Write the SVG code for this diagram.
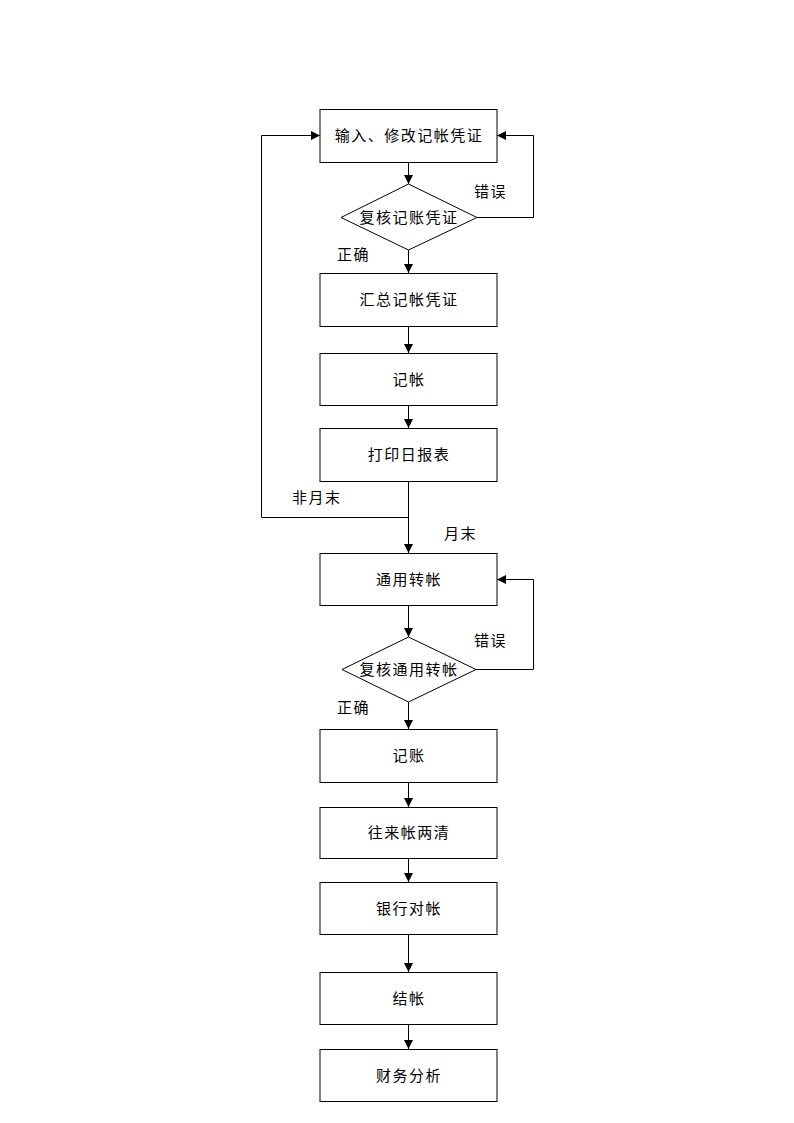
<svg xmlns="http://www.w3.org/2000/svg" width="794" height="1123" viewBox="0 0 794 1123">
<style>
.box{fill:#fff;stroke:#000;stroke-width:1}
.t{font-family:"Liberation Sans","Noto Sans CJK SC",sans-serif;font-size:15px;letter-spacing:1.5px;fill:#000;text-anchor:middle;dominant-baseline:central}
.l{font-family:"Liberation Sans","Noto Sans CJK SC",sans-serif;font-size:15px;letter-spacing:1.5px;fill:#000;dominant-baseline:central}
.c{fill:none;stroke:#000;stroke-width:1}
</style>
<defs>
<marker id="a" markerUnits="userSpaceOnUse" markerWidth="10" markerHeight="10" refX="9" refY="4.5" orient="auto">
<path d="M0,0 L9,4.5 L0,9 Z" fill="#000"/>
</marker>
</defs>
<rect width="794" height="1123" fill="#fff"/>
<g id="connectors">
<line class="c" x1="408.5" y1="162" x2="408.5" y2="184" marker-end="url(#a)"/>
<line class="c" x1="408.5" y1="250" x2="408.5" y2="273" marker-end="url(#a)"/>
<line class="c" x1="408.5" y1="326" x2="408.5" y2="353" marker-end="url(#a)"/>
<line class="c" x1="408.5" y1="405" x2="408.5" y2="428" marker-end="url(#a)"/>
<line class="c" x1="408.5" y1="481" x2="408.5" y2="553" marker-end="url(#a)"/>
<polyline class="c" points="408.5,517.5 261.5,517.5 261.5,135.5 320,135.5" marker-end="url(#a)"/>
<polyline class="c" points="477,217.5 533.5,217.5 533.5,135.5 497,135.5" marker-end="url(#a)"/>
<line class="c" x1="408.5" y1="605" x2="408.5" y2="637" marker-end="url(#a)"/>
<polyline class="c" points="476,669.5 533.5,669.5 533.5,579.5 497,579.5" marker-end="url(#a)"/>
<line class="c" x1="408.5" y1="702" x2="408.5" y2="729" marker-end="url(#a)"/>
<line class="c" x1="408.5" y1="782" x2="408.5" y2="807" marker-end="url(#a)"/>
<line class="c" x1="408.5" y1="858" x2="408.5" y2="882" marker-end="url(#a)"/>
<line class="c" x1="408.5" y1="934" x2="408.5" y2="972" marker-end="url(#a)"/>
<line class="c" x1="408.5" y1="1024" x2="408.5" y2="1049" marker-end="url(#a)"/>
<text class="l" x="474" y="191">错误</text>
<text class="l" x="337" y="254">正确</text>
<text class="l" x="292" y="497">非月末</text>
<text class="l" x="444" y="533">月末</text>
<text class="l" x="474" y="640">错误</text>
<text class="l" x="337" y="707">正确</text>
</g>
<g id="n1"><rect class="box" x="320" y="109.5" width="177" height="53"/><text class="t" x="409" y="135">输入、修改记帐凭证</text></g>
<g id="n2"><polygon class="box" points="408.5,184 477,217.5 408.5,250 341,217.5"/><text class="t" x="409" y="217">复核记账凭证</text></g>
<g id="n3"><rect class="box" x="320" y="273.5" width="177" height="53"/><text class="t" x="409" y="299">汇总记帐凭证</text></g>
<g id="n4"><rect class="box" x="320" y="353.5" width="177" height="52"/><text class="t" x="409" y="379">记帐</text></g>
<g id="n5"><rect class="box" x="320" y="428.5" width="177" height="53"/><text class="t" x="409" y="454">打印日报表</text></g>
<g id="n6"><rect class="box" x="320" y="553.5" width="177" height="52"/><text class="t" x="409" y="579">通用转帐</text></g>
<g id="n7"><polygon class="box" points="408.5,637 476,669.5 408.5,702 342,669.5"/><text class="t" x="409" y="669">复核通用转帐</text></g>
<g id="n8"><rect class="box" x="320" y="729.5" width="177" height="53"/><text class="t" x="409" y="755">记账</text></g>
<g id="n9"><rect class="box" x="320" y="807.5" width="177" height="51"/><text class="t" x="409" y="832">往来帐两清</text></g>
<g id="n10"><rect class="box" x="320" y="882.5" width="177" height="52"/><text class="t" x="409" y="908">银行对帐</text></g>
<g id="n11"><rect class="box" x="320" y="972.5" width="177" height="52"/><text class="t" x="409" y="998">结帐</text></g>
<g id="n12"><rect class="box" x="320" y="1049.5" width="177" height="52"/><text class="t" x="409" y="1075">财务分析</text></g>
</svg>
